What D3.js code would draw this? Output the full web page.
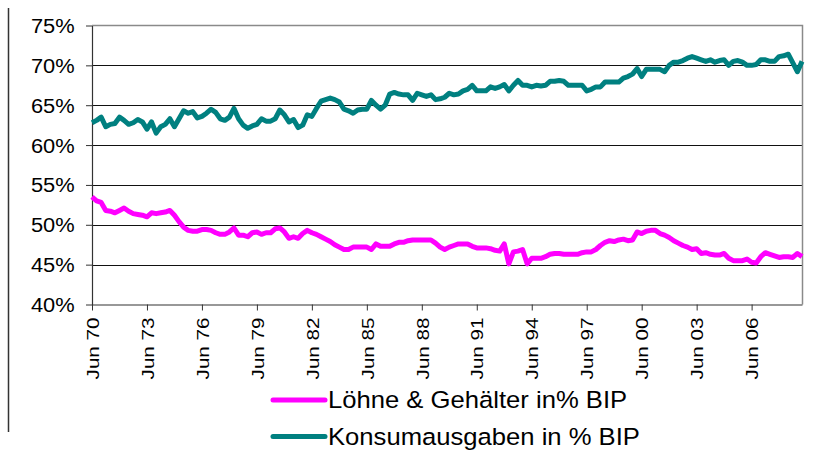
<!DOCTYPE html>
<html>
<head>
<meta charset="utf-8">
<script src="https://cdn.jsdelivr.net/npm/d3@7"></script>
<style>
  body { margin: 0; background: #fff; }
  svg text { font-family: "Liberation Sans", Arial, sans-serif; fill: #000; }
</style>
</head>
<body>
<svg width="827" height="450"></svg>
<script>
// quarterly values, Jun 1970 .. Mar 2009
const konsum = [
  62.8, 63.1, 63.5, 62.3, 62.6, 62.7, 63.5, 63.1, 62.6, 62.8,
  63.2, 62.9, 62.0, 62.9, 61.5, 62.3, 62.6, 63.3, 62.3, 63.3,
  64.3, 64.0, 64.2, 63.4, 63.6, 64.0, 64.5, 64.1, 63.3, 63.1,
  63.5, 64.6, 63.3, 62.5, 62.1, 62.4, 62.6, 63.3, 63.0, 63.0,
  63.3, 64.4, 63.8, 62.9, 63.2, 62.2, 62.5, 63.8, 63.6, 64.6,
  65.5, 65.7, 65.9, 65.7, 65.4, 64.5, 64.3, 64.0, 64.4, 64.5,
  64.5, 65.6, 65.0, 64.5, 65.0, 66.4, 66.6, 66.4, 66.3, 66.3,
  65.6, 66.5, 66.3, 66.1, 66.3, 65.7, 65.8, 66.0, 66.5, 66.3,
  66.4, 66.8, 67.0, 67.5, 66.8, 66.8, 66.8, 67.3, 67.1, 67.3,
  67.6, 66.8, 67.5, 68.1, 67.5, 67.5, 67.3, 67.5, 67.4, 67.5,
  68.0, 68.0, 68.1, 68.0, 67.5, 67.5, 67.5, 67.5, 66.8, 67.0,
  67.3, 67.3, 67.9, 67.9, 67.9, 67.9, 68.4, 68.6, 68.9, 69.6,
  68.6, 69.5, 69.5, 69.5, 69.5, 69.2, 70.0, 70.4, 70.4, 70.6,
  70.9, 71.1, 70.9, 70.7, 70.5, 70.7, 70.4, 70.6, 70.7, 70.0,
  70.5, 70.6, 70.4, 70.0, 70.0, 70.1, 70.7, 70.7, 70.5, 70.5,
  71.1, 71.2, 71.4, 70.3, 69.2, 70.5
];

const loehne = [
  53.5, 53.0, 52.8, 51.8, 51.7, 51.5, 51.8, 52.1, 51.7, 51.4,
  51.3, 51.2, 51.0, 51.5, 51.4, 51.5, 51.6, 51.8, 51.2, 50.4,
  49.7, 49.3, 49.2, 49.2, 49.4, 49.4, 49.3, 49.0, 48.8, 48.8,
  49.1, 49.6, 48.7, 48.7, 48.5, 49.0, 49.1, 48.8, 49.0, 49.0,
  49.5, 49.6, 49.1, 48.3, 48.5, 48.3, 48.9, 49.3, 49.0, 48.8,
  48.5, 48.2, 47.9, 47.5, 47.2, 46.9, 46.9, 47.2, 47.2, 47.2,
  47.2, 46.9, 47.6, 47.3, 47.3, 47.3, 47.6, 47.8, 47.8, 48.0,
  48.1, 48.1, 48.1, 48.1, 48.1, 47.7, 47.2, 46.9, 47.2, 47.4,
  47.6, 47.6, 47.6, 47.3, 47.1, 47.1, 47.1, 47.0, 46.8, 46.7,
  47.6, 45.1, 46.6, 46.7, 46.9, 45.1, 45.8, 45.8, 45.8, 46.0,
  46.3, 46.4, 46.4, 46.3, 46.3, 46.3, 46.3, 46.5, 46.6, 46.6,
  46.9, 47.4, 47.8, 48.0, 47.9, 48.1, 48.2, 48.0, 48.1, 49.1,
  48.9, 49.2, 49.3, 49.3, 48.9, 48.7, 48.4, 48.0, 47.7, 47.4,
  47.2, 46.9, 47.0, 46.4, 46.5, 46.3, 46.2, 46.2, 46.4, 45.8,
  45.5, 45.5, 45.5, 45.7, 45.3, 45.2, 46.0, 46.5, 46.3, 46.1,
  45.9, 46.0, 46.0, 45.9, 46.4, 46.0
];

const tickLabels = ["Jun 70", "Jun 73", "Jun 76", "Jun 79", "Jun 82", "Jun 85",
  "Jun 88", "Jun 91", "Jun 94", "Jun 97", "Jun 00", "Jun 03", "Jun 06"];
const yTicks = [40, 45, 50, 55, 60, 65, 70, 75];

const seriesNames = ["Löhne & Gehälter in% BIP", "Konsumausgaben in % BIP"];
const seriesColors = ["#ff00ff", "#008080"];

const svg = d3.select("svg");
const plotLeft = 92, plotRight = 802, plotTop = 25.5, plotBottom = 304.5;

const x = d3.scaleLinear().domain([0, konsum.length - 1]).range([plotLeft, plotRight]);
const y = d3.scaleLinear().domain([40, 75]).range([plotBottom, plotTop]);

// outer frame line on the left
svg.append("line")
  .attr("x1", 8.5).attr("x2", 8.5).attr("y1", 8).attr("y2", 432)
  .attr("stroke", "#333").attr("stroke-width", 1.5);

// gridlines
svg.append("g")
  .selectAll("line")
  .data(yTicks.filter((d) => d > 40 && d < 75))
  .join("line")
  .attr("x1", plotLeft).attr("x2", plotRight)
  .attr("y1", (d) => Math.round(y(d)) + 0.5)
  .attr("y2", (d) => Math.round(y(d)) + 0.5)
  .attr("stroke", "#111").attr("stroke-width", 1);

// plot border top/right
svg.append("path")
  .attr("d", `M${plotLeft},${plotTop}H${plotRight + 0.5}V${plotBottom}`)
  .attr("fill", "none").attr("stroke", "#8a8a8a").attr("stroke-width", 1.5);

// y axis
const yAxis = d3.axisLeft(y).tickValues(yTicks).tickSize(6).tickSizeOuter(0)
  .tickFormat((d) => d + "%");
const gy = svg.append("g").attr("transform", `translate(${plotLeft},0)`).call(yAxis);
gy.select(".domain").attr("stroke", "#333").attr("stroke-width", 1.2);
gy.selectAll(".tick line").attr("stroke", "#333");
gy.selectAll(".tick text")
  .attr("x", -15.5)
  .attr("dy", "0.36em")
  .attr("transform", "scale(1.12,1)")
  .style("font-size", "19.5px");

// x axis
const xAxis = d3.axisBottom(x)
  .tickValues(tickLabels.map((d, i) => i * 12))
  .tickSize(6).tickSizeOuter(0)
  .tickFormat((d) => tickLabels[d / 12]);
const gx = svg.append("g").attr("transform", `translate(0,${plotBottom})`).call(xAxis);
gx.select(".domain").attr("stroke", "#333").attr("stroke-width", 1.2);
gx.selectAll(".tick line").attr("stroke", "#333");
gx.selectAll(".tick text")
  .attr("x", 0).attr("y", 0).attr("dy", "0.36em")
  .attr("text-anchor", "end")
  .attr("transform", "translate(0,13) rotate(-90) scale(1.2,1)")
  .style("font-size", "17.2px");

// lines
const line = d3.line().x((d, i) => x(i)).y((d) => y(d));
[loehne, konsum].forEach((data, k) => {
  svg.append("path")
    .datum(data)
    .attr("d", line)
    .attr("fill", "none")
    .attr("stroke", seriesColors[k])
    .attr("stroke-width", 5)
    .attr("stroke-linejoin", "round");
});

// legend
const legend = svg.append("g")
  .selectAll("g")
  .data(seriesNames)
  .join("g")
  .attr("transform", (d, i) => `translate(273,${400 + i * 36.5})`);
legend.append("line")
  .attr("x1", 0).attr("x2", 52)
  .attr("stroke", (d, i) => seriesColors[i])
  .attr("stroke-width", 5).attr("stroke-linecap", "round");
legend.append("text")
  .attr("transform", "translate(55,8.3) scale(1.1,1)")
  .style("font-size", "23.3px")
  .text((d) => d);
</script>
</body>
</html>
